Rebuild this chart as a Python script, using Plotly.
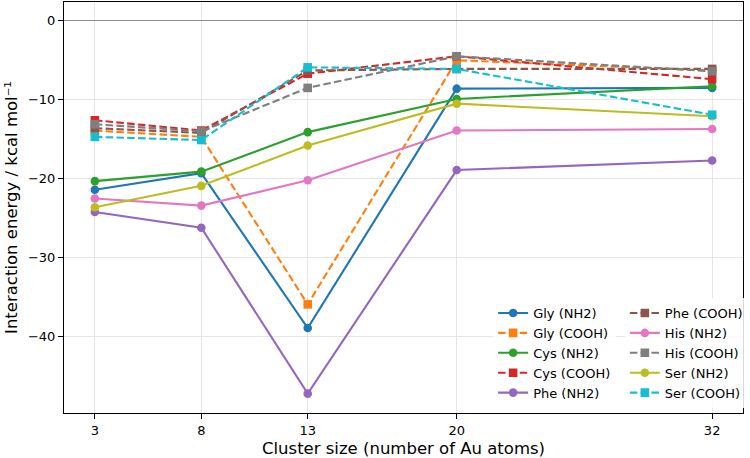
import plotly.graph_objects as go

cluster_sizes = [3, 8, 13, 20, 32]

series_names = ["Gly (NH2)", "Gly (COOH)", "Cys (NH2)", "Cys (COOH)", "Phe (NH2)",
                "Phe (COOH)", "His (NH2)", "His (COOH)", "Ser (NH2)", "Ser (COOH)"]

gly_nh2 = [-21.4, -19.3, -38.9, -8.6, -8.5]
gly_cooh = [-13.9, -14.7, -35.9, -5.0, -6.3]
cys_nh2 = [-20.3, -19.1, -14.1, -9.9, -8.3]
cys_cooh = [-12.6, -13.9, -6.7, -4.5, -7.4]
phe_nh2 = [-24.2, -26.2, -47.2, -18.9, -17.7]
phe_cooh = [-13.6, -14.2, -6.3, -6.1, -6.1]
his_nh2 = [-22.5, -23.4, -20.2, -13.9, -13.7]
his_cooh = [-13.1, -14.0, -8.5, -4.5, -6.4]
ser_nh2 = [-23.6, -20.9, -15.8, -10.5, -12.1]
ser_cooh = [-14.7, -15.1, -5.9, -6.1, -11.9]

series_values = [gly_nh2, gly_cooh, cys_nh2, cys_cooh, phe_nh2,
                 phe_cooh, his_nh2, his_cooh, ser_nh2, ser_cooh]

colors = ["#1f77b4", "#ff7f0e", "#2ca02c", "#d62728", "#9467bd",
          "#8c564b", "#e377c2", "#7f7f7f", "#bcbd22", "#17becf"]

x_ticks = [3, 8, 13, 20, 32]
y_ticks = [0, -10, -20, -30, -40]

FONT = "DejaVu Sans"

fig = go.Figure()
for i, (name, vals) in enumerate(zip(series_names, series_values)):
    is_cooh = "COOH" in name
    fig.add_trace(go.Scatter(
        x=cluster_sizes, y=vals, name=name, mode="lines+markers",
        line=dict(color=colors[i], width=2.1, dash="7.5px,3.3px" if is_cooh else "solid"),
        marker=dict(symbol="square" if is_cooh else "circle", size=8.6, color=colors[i],
                    line=dict(width=0)),
        legend="legend" if i < 5 else "legend2",
    ))

legend_common = dict(
    font=dict(family=FONT, size=13, color="black"),
    bgcolor="rgba(255,255,255,0.85)", borderwidth=0,
    yanchor="bottom", y=0.012, xanchor="left",
    itemwidth=30, tracegroupgap=0,
)

fig.update_layout(
    width=750, height=458,
    margin=dict(l=64, r=3, t=2, b=45),
    paper_bgcolor="white", plot_bgcolor="white",
    font=dict(family=FONT, size=13, color="black"),
    showlegend=True,
    legend=dict(x=0.632, **legend_common),
    legend2=dict(x=0.826, **legend_common),
    xaxis=dict(
        range=[1.55, 33.45], tickvals=x_ticks, ticktext=[str(v) for v in x_ticks],
        showgrid=True, gridcolor="#e6e6e6", gridwidth=1,
        showline=True, linecolor="black", linewidth=1.1, mirror=True,
        ticks="outside", ticklen=5, tickwidth=1.1, tickcolor="black",
        zeroline=False,
        title=dict(text="Cluster size (number of Au atoms)", font=dict(family=FONT, size=16.5), standoff=5),
        tickfont=dict(family=FONT, size=13),
    ),
    yaxis=dict(
        range=[-49.65, 2.37], tickvals=y_ticks, ticktext=["0", "−10", "−20", "−30", "−40"],
        showgrid=True, gridcolor="#e6e6e6", gridwidth=1,
        showline=True, linecolor="black", linewidth=1.1, mirror=True,
        ticks="outside", ticklen=5, tickwidth=1.1, tickcolor="black",
        zeroline=True, zerolinecolor="#8c8c8c", zerolinewidth=1.3,
        title=dict(text="Interaction energy / kcal mol⁻¹", font=dict(family=FONT, size=16.5), standoff=6),
        tickfont=dict(family=FONT, size=13),
    ),
)

fig.write_html("out.html")
